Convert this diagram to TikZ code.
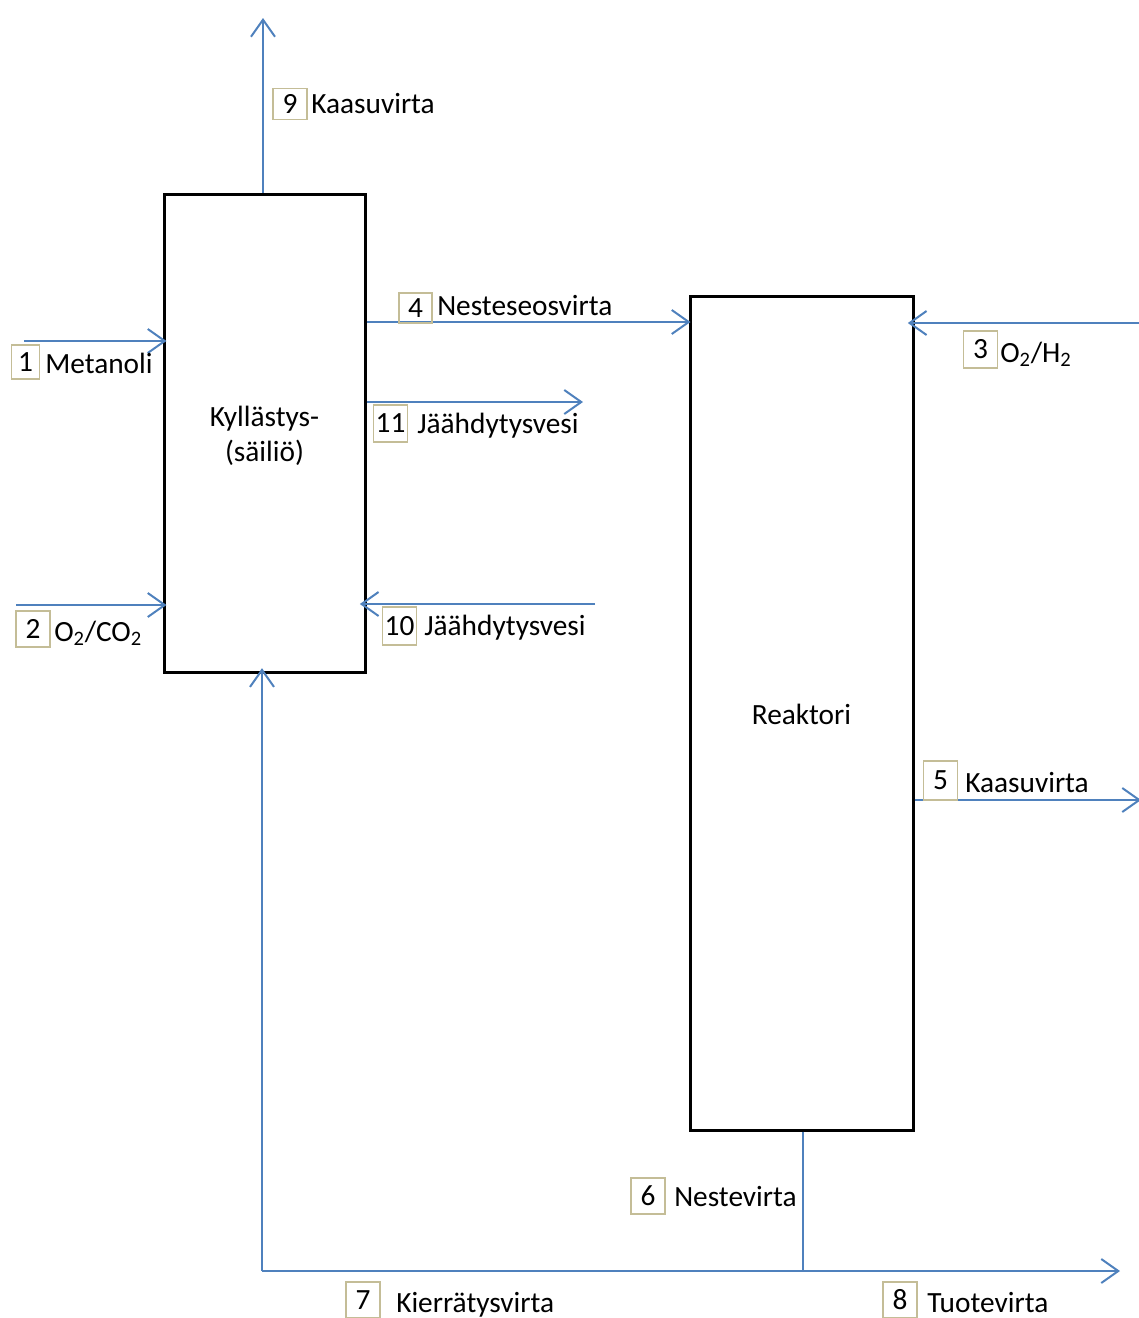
\documentclass[tikz,border=0pt]{standalone}
\usepackage{fontspec}
\setmainfont{Carlito}
\usetikzlibrary{arrows.meta}
\definecolor{flowc}{HTML}{4F81BD}
\definecolor{numc}{HTML}{C4BD97}
\begin{document}
\begin{tikzpicture}[x=0.75pt,y=-0.75pt,
  font=\fontsize{22}{26.4}\selectfont,
  unitbox/.style={draw=black, line width=2.25pt, align=center, inner sep=0pt},
  flow/.style={draw=flowc, line width=1.5pt, -{Straight Barb[length=12.75pt,width=18pt,line width=1.5pt]}},
  into/.style={shorten >=-3pt},
  plainflow/.style={draw=flowc, line width=1.5pt},
  numbox/.style={draw=numc, line width=1.4pt, inner sep=0pt, minimum width=25.5pt, minimum height=27pt},
  lbl/.style={anchor=base west, inner sep=0pt}]
\useasboundingbox (0,0) rectangle (1139,1318);

% units
\node[unitbox, minimum width=150.75pt, minimum height=358.5pt] (kyl) at (264.5,433) {};
\node[align=center, inner sep=0pt] (kyltxt) at (264.5,436) {Kyllästys-\\(säiliö)};
\node[unitbox, minimum width=167.25pt, minimum height=625.5pt] (reak) at (801.5,713) {};
\node[inner sep=0pt] (reaktxt) at (801.5,714) {Reaktori};

% coordinates
\coordinate (e9) at (263,18);
\coordinate (s1) at (24,341);
\coordinate (s2) at (16,605);
\coordinate (y4) at (0,322);
\coordinate (e11) at (583,402);
\coordinate (s10) at (595,604);
\coordinate (s3) at (1139,323);
\coordinate (e5) at (1141,800);
\coordinate (j6) at (803,1271);
\coordinate (c7) at (262,1271);
\coordinate (e8) at (1120,1271);

% streams
\draw[flow] (kyl.north -| e9) -- (e9);
\draw[flow, into] (s1) -- (s1 -| kyl.west);
\draw[flow, into] (s2) -- (s2 -| kyl.west);
\draw[flow, shorten >=-1.5pt] (kyl.east |- y4) -- (reak.west |- y4);
\draw[flow] (kyl.east |- e11) -- (e11);
\draw[flow, shorten >=-5pt] (s10) -- (s10 -| kyl.east);
\draw[flow, shorten >=-5pt] (s3) -- (s3 -| reak.east);
\draw[flow] (reak.east |- e5) -- (e5);
\draw[plainflow] (reak.south -| j6) -- (j6);
\draw[flow] (c7) -- (e8);
\draw[flow, shorten >=-4pt] (c7) -- (kyl.south -| c7);

% labels
\node[numbox, minimum width=21pt, minimum height=25.5pt] (n1) at (25.5,362) {1};
\node[lbl] (t1) at (45,373) {Metanoli};
\node[numbox] (n2) at (33,629) {2};
\node[lbl] (t2) at (54,641) {O\textsubscript{2}/CO\textsubscript{2}};
\node[numbox, minimum height=23.25pt] (n9) at (290,104) {9};
\node[lbl] (t9) at (311,113) {Kaasuvirta};
\node[numbox, minimum width=24.75pt, minimum height=22.5pt] (n4) at (415.5,308) {4};
\node[lbl] (t4) at (437,315) {Nesteseosvirta};
\node[numbox, minimum height=27.75pt] (n11) at (390.5,423.5) {11};
\node[lbl] (t11) at (417,433) {Jäähdytysvesi};
\node[numbox, minimum height=28.5pt] (n10) at (399.5,626) {10};
\node[lbl] (t10) at (424,635) {Jäähdytysvesi};
\node[numbox, minimum height=27.75pt] (n3) at (980.5,349.5) {3};
\node[lbl] (t3) at (1000,362) {O\textsubscript{2}/H\textsubscript{2}};
\node[numbox, minimum height=29.25pt] (n5) at (940.5,780.5) {5};
\node[lbl] (t5) at (965,792) {Kaasuvirta};
\node[numbox] (n6) at (648,1196) {6};
\node[lbl] (t6) at (674,1206) {Nestevirta};
\node[numbox] (n7) at (363,1300) {7};
\node[lbl] (t7) at (396,1312) {Kierrätysvirta};
\node[numbox] (n8) at (900,1300) {8};
\node[lbl] (t8) at (927,1312) {Tuotevirta};
\end{tikzpicture}
\end{document}
